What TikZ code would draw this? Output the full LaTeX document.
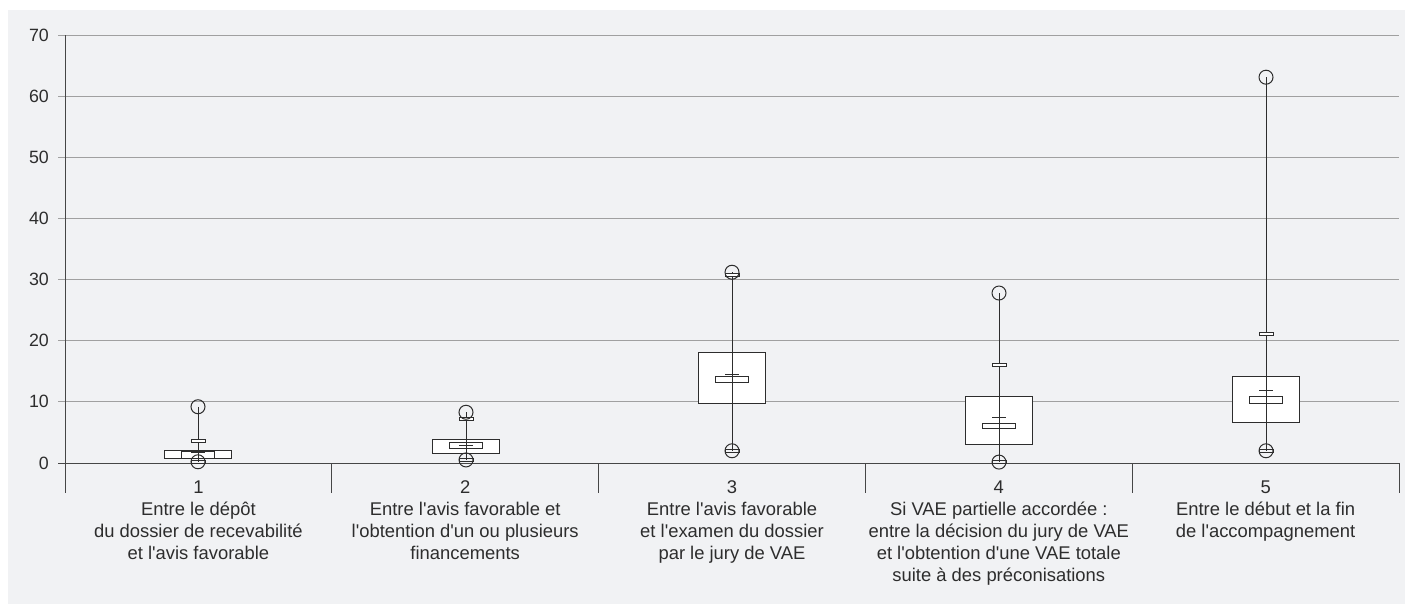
\documentclass[tikz,border=0pt]{standalone}
\usepackage{fontspec}
\setmainfont{Liberation Sans}
\usepackage{xcolor}
\definecolor{vaebg}{RGB}{241, 242, 244}
\definecolor{vaegrid}{RGB}{160, 160, 160}
\definecolor{vaeaxis}{RGB}{70, 70, 70}
\definecolor{vaeink}{RGB}{45, 45, 45}

\begin{document}
\begin{tikzpicture}[x=1pt, y=1pt,
        boxpart/.style={draw=vaeink, fill=white, line width=1pt},
        whisk/.style={vaeink, line width=1pt},
        ticklab/.style={anchor=east, inner sep=0pt, text=vaeink, font=\fontsize{17.8}{21}\selectfont},
        catlab/.style={anchor=base, inner sep=0pt, align=center, text=vaeink, font=\fontsize{18.4}{22}\selectfont}]
    \useasboundingbox (0,-143) rectangle (1405,463);
    % Background
    \fill[vaebg] (8,-141) rectangle (1405,453);

    % Grid lines and value labels
    \foreach \v in {10,20,...,70} {
        \draw[vaegrid, line width=1pt] (58,{\v*6.114}) -- (1399,{\v*6.114});
    }
    \foreach \v in {0,10,...,70} {
        \node[ticklab] (tick\v) at (49,{\v*6.114}) {\v};
    }

    % Axes and category separators
    \draw[vaeaxis, line width=1pt] (65,{70*6.114}) -- (65,-30);
    \draw[vaeaxis, line width=1pt] (58,0) -- (1399,0);
    \foreach \i in {1,...,5} {
        \draw[vaeaxis, line width=1pt] ({65+\i*266.8},0) -- ++(0,-30);
    }

    % Box plots (values in days)
    \begin{scope}[y=6.114pt]
        \foreach \xc/\vout/\vcap/\vqt/\vqb/\vit/\vib/\vmean/\vlow in {
            198/9.2/3.6/2.0/0.8/1.9/0.75/1.7/0.2,
            466/8.3/7.2/3.9/1.5/3.4/2.3/2.8/0.5,
            732/31.2/30.7/18.15/9.8/14.2/13.1/14.4/2.0,
            999/27.8/16.0/10.8/3.1/6.5/5.6/7.5/0.15,
            1266/63.1/21.1/14.1/6.7/10.8/9.8/11.9/2.0} {
            \draw[boxpart] (\xc-33.5,\vqb) rectangle (\xc+33.5,\vqt);
            \draw[boxpart] (\xc-16.5,\vib) rectangle (\xc+16.5,\vit);
            % mean
            \draw[whisk] (\xc-7,\vmean) -- (\xc+7,\vmean);
            \draw[whisk] (\xc,\vmean) ++(0pt,-6pt) -- ++(0pt,12pt);
            % whisker and caps
            \draw[whisk] (\xc,\vout) -- (\xc,\vlow);
            \draw[whisk, fill=white] (\xc,\vcap) ++(-7pt,-1.5pt) rectangle ++(14pt,3pt);
            \draw[whisk] (\xc,\vlow) ++(-7pt,-1.5pt) rectangle ++(14pt,3pt);
            % extreme values
            \draw[whisk] (\xc,\vout) circle[radius=7pt];
            \draw[whisk] (\xc,\vlow) circle[radius=7pt];
        }
    \end{scope}

    % Category labels (anchored on the baseline of their last line)
    \foreach \i/\n/\txt in {
        1/3/{Entre le dépôt\\du dossier de recevabilité\\et l\textquotesingle avis favorable},
        2/3/{Entre l\textquotesingle avis favorable et\\l\textquotesingle obtention d\textquotesingle un ou plusieurs\\financements},
        3/3/{Entre l\textquotesingle avis favorable\\et l\textquotesingle examen du dossier\\par le jury de VAE},
        4/4/{Si VAE partielle accordée :\\entre la décision du jury de VAE\\et l\textquotesingle obtention d\textquotesingle une VAE totale\\suite à des préconisations},
        5/2/{Entre le début et la fin\\de l\textquotesingle accompagnement}} {
        \node[catlab] (cat\i) at ({65+(\i-0.5)*266.8},{-30-22*\n}) {\i\\\txt};
    }
\end{tikzpicture}
\end{document}
